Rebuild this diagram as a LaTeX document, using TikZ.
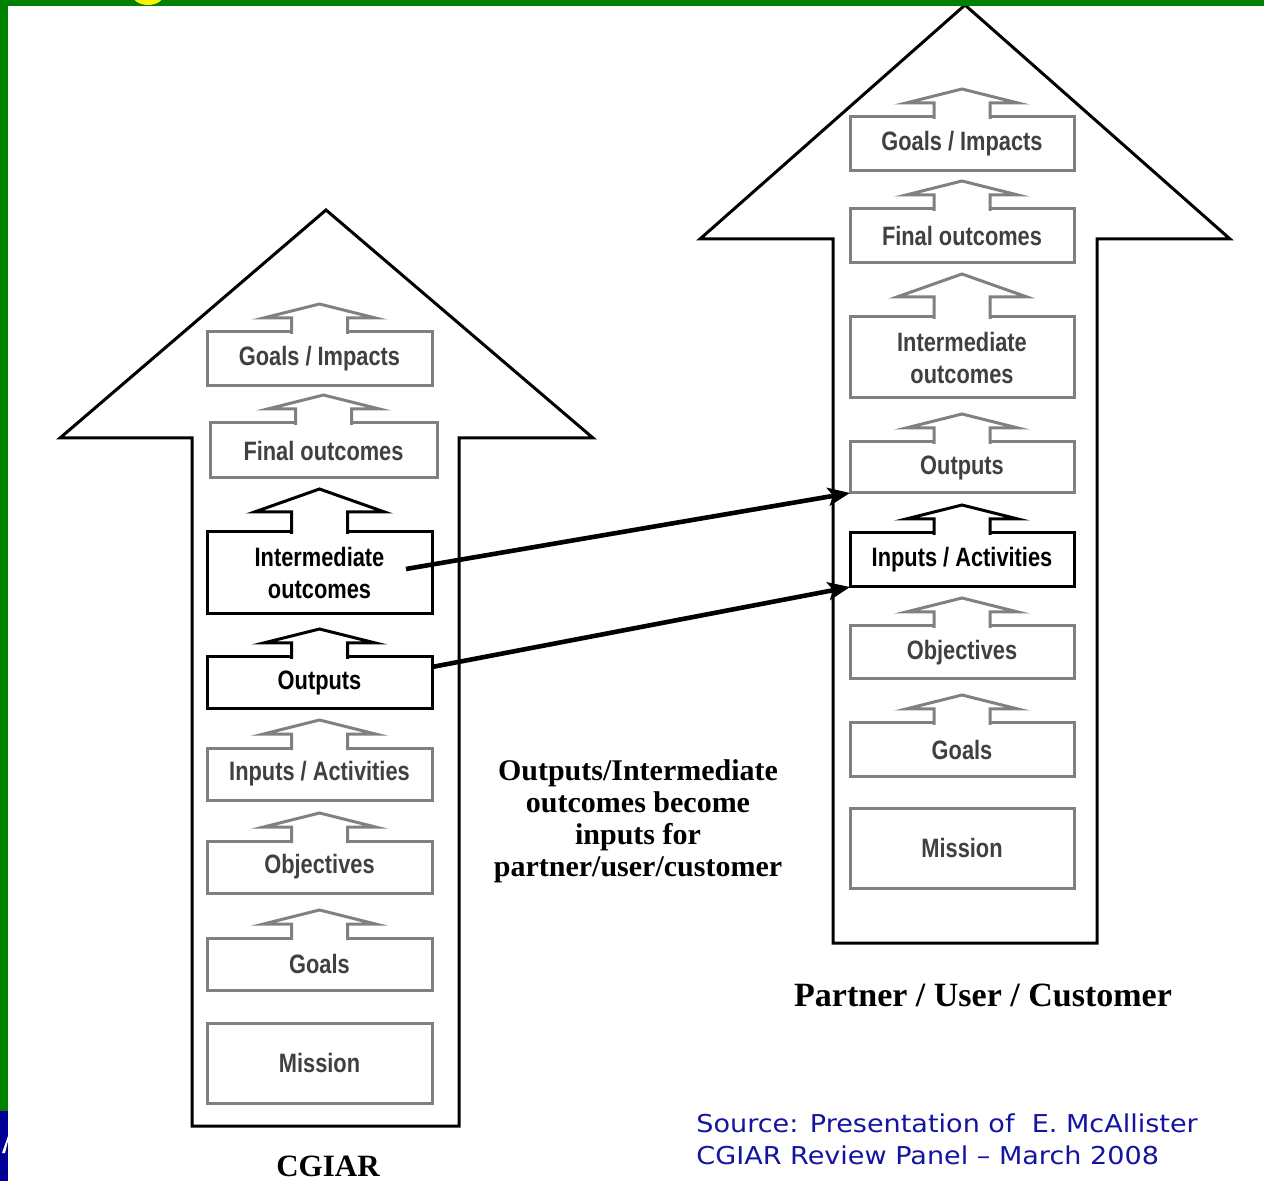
\documentclass[tikz,border=0pt]{standalone}
\usepackage{fontspec}
\setmainfont{Liberation Serif}
\newfontfamily\nar[FakeStretch=0.82]{Liberation Sans}
\newfontfamily\verd[FakeStretch=1.1]{DejaVu Sans}
\usetikzlibrary{arrows.meta,calc}
\definecolor{boxgray}{RGB}{128,128,128}
\definecolor{txtgray}{RGB}{64,64,64}
\definecolor{bordergreen}{RGB}{0,128,0}
\definecolor{srcblue}{RGB}{20,20,160}
\definecolor{tabblue}{RGB}{0,0,153}
\newcommand\smallup[2]{\draw[#2,fill=white] (#1.north) ++(-28,2) -- ++(0,-16) -- ++(-28,0) -- ++(56,-14) -- ++(56,14) -- ++(-28,0) -- ++(0,16);}
\newcommand\bigup[2]{\draw[#2,fill=white] (#1.north) ++(-28,2) -- ++(0,-22) -- ++(-37,0) -- ++(65,-23) -- ++(65,23) -- ++(-37,0) -- ++(0,22);}
\begin{document}
\begin{tikzpicture}[x=0.5pt,y=-0.5pt,
  bw/.style={minimum width=#1*0.5pt},
  bh/.style={minimum height=#1*0.5pt},
  bigarrow/.style={draw=black,line width=1.5pt,line join=miter,fill=white},
  gbox/.style={draw=boxgray,line width=1.5pt,rectangle,inner sep=0pt,outer sep=0pt,
    font=\nar\bfseries\fontsize{13.3}{16}\selectfont,text=txtgray,align=center},
  kbox/.style={gbox,draw=black,text=black},
  garr/.style={draw=boxgray,line width=1.5pt,line join=miter},
  karr/.style={draw=black,line width=1.5pt,line join=miter},
  link/.style={draw=black,line width=2.3pt,-{Stealth[length=11pt,width=9pt,inset=2.5pt]}}]
\useasboundingbox (0,0) rectangle (1264,1181);
\fill[white] (0,0) rectangle (1264,1181);
% big arrows
\draw[bigarrow] (192,1126) -- (192,438) -- (60,438) -- (326,210) -- (593,438) -- (459,438) -- (459,1126) -- cycle;
\draw[bigarrow] (833,943) -- (833,239) -- (700,239) -- (965,5) -- (1230,239) -- (1097,239) -- (1097,943) -- cycle;
% left boxes
\node[gbox,bw=225,bh=54] (lgi) at (319.5,359) {Goals / Impacts};
\node[gbox,bw=227,bh=55] (lfo) at (323.5,450.5) {Final outcomes};
\node[kbox,bw=225,bh=82] (lint) at (319.5,573) {Intermediate\\outcomes};
\node[kbox,bw=225,bh=52] (lout) at (319.5,683) {Outputs};
\node[gbox,bw=225,bh=52] (lin) at (319.5,774) {Inputs / Activities};
\node[gbox,bw=225,bh=52] (lobj) at (319.5,867) {Objectives};
\node[gbox,bw=225,bh=52] (lgo) at (319.5,964) {Goals};
\node[gbox,bw=225,bh=80] (lmis) at (319.5,1063) {Mission};
\smallup{lgi}{garr}
\smallup{lfo}{garr}
\bigup{lint}{karr}
\smallup{lout}{karr}
\smallup{lin}{garr}
\smallup{lobj}{garr}
\smallup{lgo}{garr}
% right boxes
\node[gbox,bw=224,bh=54] (rgi) at (962,144) {Goals / Impacts};
\node[gbox,bw=224,bh=54] (rfo) at (962,236) {Final outcomes};
\node[gbox,bw=224,bh=81] (rint) at (962,357.5) {Intermediate\\outcomes};
\node[gbox,bw=224,bh=51] (rout) at (962,467.5) {Outputs};
\node[kbox,bw=224,bh=54] (rin) at (962,560) {Inputs / Activities};
\node[gbox,bw=224,bh=53] (robj) at (962,652.5) {Objectives};
\node[gbox,bw=224,bh=53] (rgo) at (962,749.5) {Goals};
\node[gbox,bw=224,bh=80] (rmis) at (962,848) {Mission};
\smallup{rgi}{garr}
\smallup{rfo}{garr}
\bigup{rint}{garr}
\smallup{rout}{garr}
\smallup{rin}{karr}
\smallup{robj}{garr}
\smallup{rgo}{garr}
% connectors
\coordinate (s1) at ($(lint.east)+(-26,-4)$);
\coordinate (s2) at ($(lout.east)+(0,-16)$);
\draw[link] (s1) -- (rout.south west);
\draw[link] (s2) -- (rin.south west);
% texts
\node[font=\bfseries\fontsize{15}{16}\selectfont,align=center] (note) at (638,821)
  {Outputs/Intermediate\\outcomes become\\inputs for\\partner/user/customer};
\node[font=\bfseries\fontsize{17}{20}\selectfont] (partner) at (983,995) {Partner / User / Customer};
\node[font=\bfseries\fontsize{15.5}{17}\selectfont] (cgiar) at (328,1166) {CGIAR};
\node[font=\verd\fontsize{12.3}{16}\selectfont,text=srcblue,align=left,anchor=west,inner sep=0pt] (src) at (696,1139)
  {Source: Presentation of\ \ E. McAllister\\CGIAR Review Panel – March 2008};
% frame
\fill[bordergreen] (0,0) rectangle (1264,6);
\fill[bordergreen] (0,0) rectangle (8,1111);
\fill[tabblue] (0,1111) rectangle (8,1181);
\fill[white] (2,1153) -- (5,1153) -- (8,1141) -- (8,1136) -- cycle;
\begin{scope}
\clip (0,0) rectangle (1264,1181);
\fill[yellow] (148,-6) ellipse (16 and 11);
\end{scope}
\end{tikzpicture}
\end{document}
